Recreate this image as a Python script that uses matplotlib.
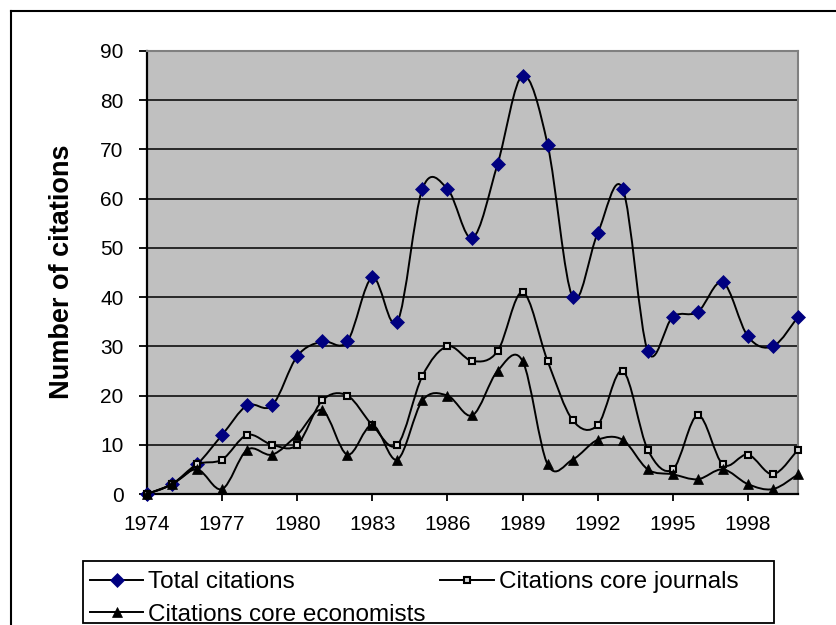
import numpy as np
import matplotlib
matplotlib.use('Agg')
import matplotlib.pyplot as plt
from matplotlib.path import Path
from matplotlib.patches import PathPatch, Rectangle
from matplotlib.lines import Line2D

# ---- data ----
years = list(range(1974, 2001))
total = [0, 2, 6, 12, 18, 18, 28, 31, 31, 44, 35, 62, 62, 52, 67, 85, 71, 40, 53, 62, 29, 36, 37, 43, 32, 30, 36]
journals = [0, 2, 6, 7, 12, 10, 10, 19, 20, 14, 10, 24, 30, 27, 29, 41, 27, 15, 14, 25, 9, 5, 16, 6, 8, 4, 9]
economists = [0, 2, 5, 1, 9, 8, 12, 17, 8, 14, 7, 19, 20, 16, 25, 27, 6, 7, 11, 11, 5, 4, 3, 5, 2, 1, 4]
series_names = ['Total citations', 'Citations core journals', 'Citations core economists']
xtick_years = list(range(1974, 1999, 3))
yticks = list(range(0, 100, 10))
ylabel = 'Number of citations'

plt.rcParams['font.family'] = ['Liberation Sans', 'DejaVu Sans']

W, H = 836, 625
fig = plt.figure(figsize=(W / 100, H / 100), dpi=100)
fig.patch.set_facecolor('white')


def fx(px):
    return px / W


def fy(py):
    return 1 - py / H


ax = fig.add_axes([fx(147), fy(494), fx(798) - fx(147), fy(51) - fy(494)])
ax.set_facecolor('#C0C0C0')
ax.set_xlim(years[0], years[-1])
ax.set_ylim(0, 90)


def smooth_path(x, y):
    x = np.asarray(x, float)
    y = np.asarray(y, float)
    n = len(x)
    verts = [(x[0], y[0])]
    codes = [Path.MOVETO]
    for i in range(n - 1):
        i0 = max(i - 1, 0)
        i3 = min(i + 2, n - 1)
        c1 = (x[i] + (x[i + 1] - x[i0]) / 6, y[i] + (y[i + 1] - y[i0]) / 6)
        c2 = (x[i + 1] - (x[i3] - x[i]) / 6, y[i + 1] - (y[i3] - y[i]) / 6)
        verts += [c1, c2, (x[i + 1], y[i + 1])]
        codes += [Path.CURVE4] * 3
    return Path(verts, codes)


# gridlines
for v in yticks[1:-1]:
    ax.axhline(v, color='black', lw=1.1, zorder=1)

styles = [
    dict(marker='D', ms=7, mfc='#000080', mec='#000080', mew=0.5),
    dict(marker='s', ms=5, mfc='#D8D8D8', mec='black', mew=1.5),
    dict(marker='^', ms=7.5, mfc='black', mec='black', mew=0.5),
]
handles = []
for k, (vals, st, name) in enumerate(zip([total, journals, economists], styles, series_names)):
    z = 3 + k * 2
    ax.add_patch(PathPatch(smooth_path(years, vals), fill=False, edgecolor='black', lw=1.4, zorder=z))
    ax.plot(years, vals, ls='none', zorder=z + 1, clip_on=False, **st)
    handles.append(Line2D([], [], color='black', lw=1.4, label=name, **st))

# axes styling
for s in ['top', 'right']:
    ax.spines[s].set_color('#808080')
    ax.spines[s].set_linewidth(1.5)
for s in ['left', 'bottom']:
    ax.spines[s].set_color('black')
    ax.spines[s].set_linewidth(1.6)

ax.set_yticks(yticks)
ax.set_yticklabels([str(v) for v in yticks], fontsize=15)
ax.set_xticks(xtick_years)
ax.set_xticklabels([str(v) for v in xtick_years], fontsize=15)
ax.tick_params(axis='y', direction='out', length=6, width=1.3, pad=11)
ax.tick_params(axis='x', direction='out', length=5, width=1.3, pad=10)

fig.text(fx(62), fy(272), ylabel, rotation=90, fontsize=19.5, fontweight='bold',
         ha='center', va='center')

# outer chart frame
fig.add_artist(Line2D([fx(11), fx(11)], [fy(11), 0], transform=fig.transFigure, color='black', lw=1.5))
fig.add_artist(Line2D([fx(11), 1], [fy(11), fy(11)], transform=fig.transFigure, color='black', lw=1.5))

# legend box
fig.add_artist(Rectangle((fx(83), fy(623)), fx(774) - fx(83), fy(561) - fy(623),
                         transform=fig.transFigure, facecolor='white', edgecolor='black', lw=1.3))
leg_order = [0, 2, 1]
leg = fig.legend(handles=[handles[i] for i in leg_order], loc='upper left', bbox_to_anchor=(fx(90), fy(571)),
                 ncol=2, frameon=False, fontsize=17.5, borderpad=0, borderaxespad=0,
                 handlelength=2.2, handletextpad=0.2, columnspacing=0.6, labelspacing=0.45,
                 numpoints=1)
leg.set_zorder(10)

fig.savefig('out.png', dpi=100)
